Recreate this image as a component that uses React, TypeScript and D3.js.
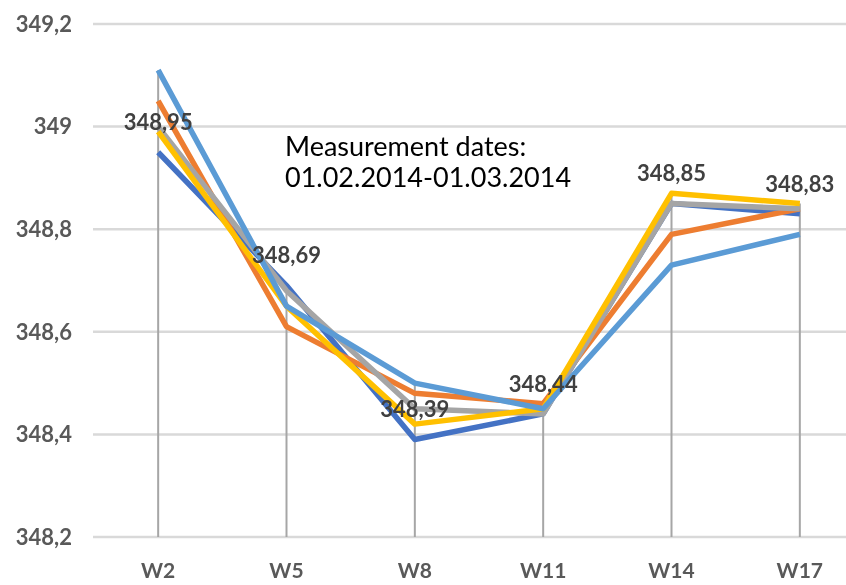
import * as d3 from "d3";
import { useEffect, useRef } from "react";

const categories = ["W2", "W5", "W8", "W11", "W14", "W17"];

const seriesBlue = [348.95, 348.69, 348.39, 348.44, 348.85, 348.83];
const seriesOrange = [349.05, 348.61, 348.48, 348.46, 348.79, 348.84];
const seriesGray = [349.0, 348.68, 348.45, 348.44, 348.85, 348.84];
const seriesYellow = [348.99, 348.65, 348.42, 348.45, 348.87, 348.85];
const seriesLightBlue = [349.11, 348.65, 348.5, 348.45, 348.73, 348.79];

const yTicks = [348.2, 348.4, 348.6, 348.8, 349, 349.2];
const noteLines = ["Measurement dates:", "01.02.2014-01.03.2014"];

const series = [
  { name: "S1", values: seriesBlue, color: "#4472C4" },
  { name: "S2", values: seriesOrange, color: "#ED7D31" },
  { name: "S3", values: seriesGray, color: "#A5A5A5" },
  { name: "S4", values: seriesYellow, color: "#FFC000" },
  { name: "S5", values: seriesLightBlue, color: "#5B9BD5" },
];

export default function App() {
  const svgRef = useRef<SVGSVGElement | null>(null);

  useEffect(() => {
    if (!svgRef.current) return;
    const svg = d3.select(svgRef.current);
    svg.selectAll("*").remove();

    const width = 846;
    const height = 585;
    const font = "Lato, 'Open Sans', sans-serif";

    svg.attr("width", width).attr("height", height).style("display", "block");

    const x = d3.scalePoint<string>().domain(categories).range([94, 864]).padding(0.5);
    const y = d3.scaleLinear().domain([348.2, 349.2]).range([537, 24]);
    const fmt = (v: number) => d3.format("~g")(+v.toFixed(1)).replace(".", ",");

    // gridlines
    svg.append("g")
      .selectAll("line")
      .data(yTicks)
      .enter()
      .append("line")
      .attr("x1", 93)
      .attr("x2", width)
      .attr("y1", (d) => y(d))
      .attr("y2", (d) => y(d))
      .attr("stroke", "#d9d9d9")
      .attr("stroke-width", 2.5);

    // y labels
    svg.append("g")
      .selectAll("text")
      .data(yTicks)
      .enter()
      .append("text")
      .attr("x", 72)
      .attr("y", (d) => y(d))
      .attr("dy", "0.35em")
      .attr("text-anchor", "end")
      .attr("font-family", font)
      .attr("font-weight", "bold")
      .attr("font-size", 22)
      .attr("fill", "#595959")
      .text((d) => fmt(d));

    // x labels
    svg.append("g")
      .selectAll("text")
      .data(categories)
      .enter()
      .append("text")
      .attr("x", (d) => x(d)!)
      .attr("y", 578)
      .attr("text-anchor", "middle")
      .attr("font-family", font)
      .attr("font-weight", "bold")
      .attr("font-size", 21)
      .attr("fill", "#595959")
      .text((d) => d);

    // drop lines from highest value to the axis
    svg.append("g")
      .selectAll("line")
      .data(categories)
      .enter()
      .append("line")
      .attr("x1", (d) => x(d)!)
      .attr("x2", (d) => x(d)!)
      .attr("y1", (_, i) => y(d3.max(series, (s) => s.values[i])!))
      .attr("y2", y(348.2))
      .attr("stroke", "#a6a6a6")
      .attr("stroke-width", 2);

    const line = d3
      .line<number>()
      .x((_, i) => x(categories[i])!)
      .y((d) => y(d));

    svg.append("g")
      .selectAll("path")
      .data(series)
      .enter()
      .append("path")
      .attr("d", (d) => line(d.values))
      .attr("fill", "none")
      .attr("stroke", (d) => d.color)
      .attr("stroke-width", 5.5)
      .attr("stroke-linejoin", "round");

    // data labels for first series
    svg.append("g")
      .selectAll("text")
      .data(seriesBlue)
      .enter()
      .append("text")
      .attr("x", (_, i) => x(categories[i])!)
      .attr("y", (d) => y(d) - 30)
      .attr("dy", "0.35em")
      .attr("text-anchor", "middle")
      .attr("font-family", font)
      .attr("font-weight", "bold")
      .attr("font-size", 22)
      .attr("fill", "#404040")
      .text((d) => d.toFixed(2).replace(".", ","));

    // annotation
    svg.append("text")
      .attr("font-family", font)
      .attr("font-size", 27)
      .attr("fill", "#000")
      .selectAll("tspan")
      .data(noteLines)
      .enter()
      .append("tspan")
      .attr("x", 285)
      .attr("y", (_, i) => 156 + i * 31)
      .text((d) => d);
  }, []);

  return (
    <div style={{ position: "fixed", left: 0, top: 0 }}>
      <svg ref={svgRef}></svg>
    </div>
  );
}
